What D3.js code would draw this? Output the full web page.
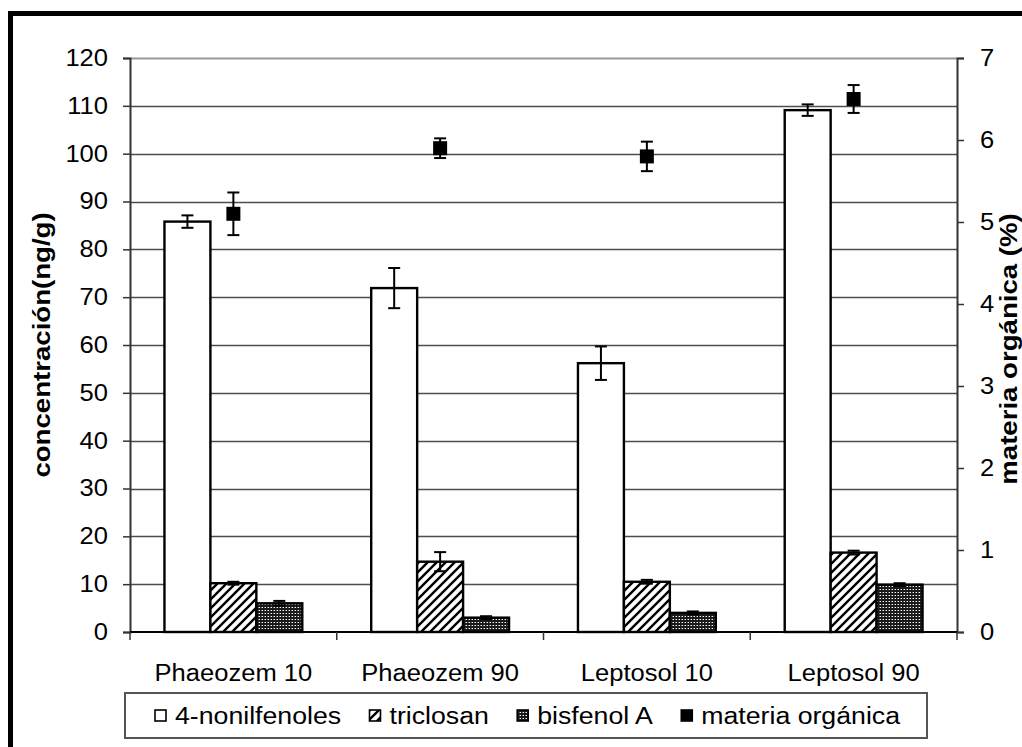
<!DOCTYPE html>
<html><head><meta charset="utf-8">
<script src="https://cdn.jsdelivr.net/npm/d3@7"></script>
<style>
html,body{margin:0;padding:0;background:#fff;}
svg{display:block;}
text{font-family:"Liberation Sans",Arial,sans-serif;fill:#000;}
</style></head>
<body>
<script>
// ---- data ----
const categories = ["Phaeozem 10", "Phaeozem 90", "Leptosol 10", "Leptosol 90"];
const seriesNames = ["4-nonilfenoles", "triclosan", "bisfenol A", "materia orgánica"];
const nonilfenoles = [85.8, 71.9, 56.2, 109.1];
const nonilfenolesErr = [1.3, 4.2, 3.5, 1.2];
const triclosan = [10.2, 14.7, 10.5, 16.6];
const triclosanErr = [0.3, 2.0, 0.4, 0.4];
const bisfenolA = [6.0, 3.0, 4.0, 9.9];
const bisfenolAErr = [0.5, 0.3, 0.3, 0.3];
const materiaOrganica = [5.1, 5.9, 5.8, 6.5];
const materiaOrganicaErr = [0.26, 0.12, 0.18, 0.17];
const leftTicks = [0, 10, 20, 30, 40, 50, 60, 70, 80, 90, 100, 110, 120];
const rightTicks = [0, 1, 2, 3, 4, 5, 6, 7];
const leftTitle = "concentración(ng/g)";
const rightTitle = "materia orgánica (%)";

const W = 1022, H = 747;
const L = 130, R = 957, T = 58, B = 632;
const FS = 23, STRETCH = 1.11, LSTRETCH = 1.16, TSTRETCH = 1.2;

const svg = d3.select("body").append("svg").attr("width", W).attr("height", H);
const defs = svg.append("defs");

// hatch pattern
const hatch = defs.append("pattern").attr("id", "hatch").attr("patternUnits", "userSpaceOnUse")
  .attr("width", 9).attr("height", 9);
hatch.append("rect").attr("width", 9).attr("height", 9).attr("fill", "#fff");
hatch.append("path").attr("d", "M-2,2 L2,-2 M0,9 L9,0 M7,11 L11,7")
  .attr("stroke", "#000").attr("stroke-width", 2.4);
// dotted pattern
const dots = defs.append("pattern").attr("id", "dots").attr("patternUnits", "userSpaceOnUse")
  .attr("width", 3).attr("height", 3);
dots.append("rect").attr("width", 3).attr("height", 3).attr("fill", "#1a1a1a");
dots.append("rect").attr("x", 1).attr("y", 1).attr("width", 1).attr("height", 1).attr("fill", "#fff");
dots.append("rect").attr("x", 0).attr("y", 1).attr("width", 1).attr("height", 1).attr("fill", "#777");

// frame
svg.append("rect").attr("x", 10.5).attr("y", 13.5).attr("width", 1200).attr("height", 900)
  .attr("fill", "none").attr("stroke", "#000").attr("stroke-width", 5);

// scales
const y = d3.scaleLinear().domain([0, 120]).range([B, T]);
const y2 = d3.scaleLinear().domain([0, 7]).range([B, T]);
const x0 = d3.scaleBand().domain(categories).range([L, R]).padding(0);
const step = x0.step();
const x1 = d3.scaleBand().domain([0, 1, 2]).range([step / 6, step * 5 / 6]).padding(0);

// gridlines
svg.append("g").selectAll("line").data(leftTicks.filter(d => d > 0)).join("line")
  .attr("x1", L).attr("x2", R).attr("y1", d => Math.round(y(d)) + 0.5).attr("y2", d => Math.round(y(d)) + 0.5)
  .attr("stroke", d => d === 120 ? "#999" : "#4d4d4d").attr("stroke-width", d => d === 120 ? 2 : 1.6);

// left axis
const ax = svg.append("g").attr("transform", `translate(${L},0)`)
  .call(d3.axisLeft(y).tickValues(leftTicks).tickFormat(d3.format("d")).tickSize(7).tickPadding(15));
ax.select(".domain").attr("stroke", "#333").attr("stroke-width", 2);
ax.selectAll(".tick line").attr("stroke", "#333").attr("stroke-width", 1.5);
ax.selectAll(".tick text").attr("class", "st").style("font-size", FS + "px").attr("x", -22);

// right axis
const ax2 = svg.append("g").attr("transform", `translate(${R},0)`)
  .call(d3.axisRight(y2).tickValues(rightTicks).tickFormat(d3.format("d")).tickSize(7).tickPadding(15));
ax2.select(".domain").attr("stroke", "#333").attr("stroke-width", 2);
ax2.selectAll(".tick line").attr("stroke", "#333").attr("stroke-width", 1.5);
ax2.selectAll(".tick text").attr("class", "st").style("font-size", FS + "px").attr("x", 23);

// bars
const series = [
  {vals: nonilfenoles, err: nonilfenolesErr, fill: "#fff"},
  {vals: triclosan, err: triclosanErr, fill: "url(#hatch)"},
  {vals: bisfenolA, err: bisfenolAErr, fill: "url(#dots)"}
];
const bars = svg.append("g");
series.forEach((s, si) => {
  bars.selectAll(null).data(categories).join("rect")
    .attr("x", c => x0(c) + x1(si))
    .attr("y", (c, i) => y(s.vals[i]))
    .attr("width", x1.bandwidth())
    .attr("height", (c, i) => B - y(s.vals[i]))
    .attr("fill", s.fill).attr("stroke", "#000").attr("stroke-width", 2.4);
});
// error bars for bars
const eb = svg.append("g").attr("stroke", "#000").attr("stroke-width", 2);
series.forEach((s, si) => {
  categories.forEach((c, i) => {
    const cx = x0(c) + x1(si) + x1.bandwidth() / 2;
    const y1v = y(s.vals[i] + s.err[i]), y2v = y(s.vals[i] - s.err[i]);
    eb.append("line").attr("x1", cx).attr("x2", cx).attr("y1", y1v).attr("y2", y2v);
    eb.append("line").attr("x1", cx - 6).attr("x2", cx + 6).attr("y1", y1v).attr("y2", y1v);
    eb.append("line").attr("x1", cx - 6).attr("x2", cx + 6).attr("y1", y2v).attr("y2", y2v);
  });
});

// baseline
svg.append("line").attr("x1", L).attr("x2", R).attr("y1", B).attr("y2", B)
  .attr("stroke", "#000").attr("stroke-width", 2);
// category ticks
svg.append("g").selectAll("line").data(d3.range(categories.length + 1)).join("line")
  .attr("x1", i => L + i * step).attr("x2", i => L + i * step)
  .attr("y1", B).attr("y2", B + 8).attr("stroke", "#333").attr("stroke-width", 1.5);
// category labels
svg.append("g").selectAll("text").data(categories).join("text").attr("class", "st")
  .attr("x", c => x0(c) + step / 2).attr("y", 681).attr("text-anchor", "middle")
  .style("font-size", FS + "px").text(c => c);

// materia orgánica points
const mo = svg.append("g");
categories.forEach((c, i) => {
  const cx = x0(c) + step / 2;
  const y1v = y2(materiaOrganica[i] + materiaOrganicaErr[i]), y2v = y2(materiaOrganica[i] - materiaOrganicaErr[i]);
  mo.append("line").attr("x1", cx).attr("x2", cx).attr("y1", y1v).attr("y2", y2v).attr("stroke", "#000").attr("stroke-width", 2);
  mo.append("line").attr("x1", cx - 6).attr("x2", cx + 6).attr("y1", y1v).attr("y2", y1v).attr("stroke", "#000").attr("stroke-width", 2);
  mo.append("line").attr("x1", cx - 6).attr("x2", cx + 6).attr("y1", y2v).attr("y2", y2v).attr("stroke", "#000").attr("stroke-width", 2);
  mo.append("rect").attr("x", cx - 7).attr("y", y2(materiaOrganica[i]) - 7).attr("width", 14).attr("height", 14).attr("fill", "#000");
});

// axis titles
svg.append("text").attr("class", "tt").attr("transform", `translate(50,345) rotate(-90)`)
  .attr("text-anchor", "middle").style("font-size", FS + "px").style("font-weight", "bold").text(leftTitle);
svg.append("text").attr("class", "tt").attr("transform", `translate(1017,349) rotate(-90)`)
  .attr("text-anchor", "middle").style("font-size", FS + "px").style("font-weight", "bold").text(rightTitle);

// legend
const lg = svg.append("g");
lg.append("rect").attr("x", 125).attr("y", 693).attr("width", 802).attr("height", 45)
  .attr("fill", "#fff").attr("stroke", "#555").attr("stroke-width", 2);
const legFills = ["#fff", "url(#hatch)", "url(#dots)", "#000"];
const items = lg.selectAll("g.it").data(seriesNames).join("g").attr("class", "it");
items.append("rect").attr("width", 11).attr("height", 11).attr("y", 710)
  .attr("fill", (d, i) => legFills[i]).attr("stroke", "#000").attr("stroke-width", 1.6);
items.append("text").attr("class", "lt").attr("y", 724).style("font-size", FS + "px").text(d => d);

// stretch text horizontally
function stretch(sel, f) {
  sel.each(function () {
    const w = this.getComputedTextLength();
    d3.select(this).attr("textLength", w * f).attr("lengthAdjust", "spacingAndGlyphs");
  });
}
stretch(svg.selectAll("text.st"), STRETCH);
stretch(svg.selectAll("text.lt"), LSTRETCH);
stretch(svg.selectAll("text.tt"), TSTRETCH);

// legend layout
const widths = [];
items.select("text").each(function () { widths.push(+d3.select(this).attr("textLength")); });
const mk = 11, mgap = 9;
const totalItems = d3.sum(widths) + widths.length * (mk + mgap);
const padL = 30, padR = 27;
const gap = (802 - padL - padR - totalItems) / (widths.length - 1);
let cur = 125 + padL;
items.each(function (d, i) {
  const g = d3.select(this);
  g.select("rect").attr("x", cur);
  g.select("text").attr("x", cur + mk + mgap);
  cur += mk + mgap + widths[i] + gap;
});
</script>
</body></html>
